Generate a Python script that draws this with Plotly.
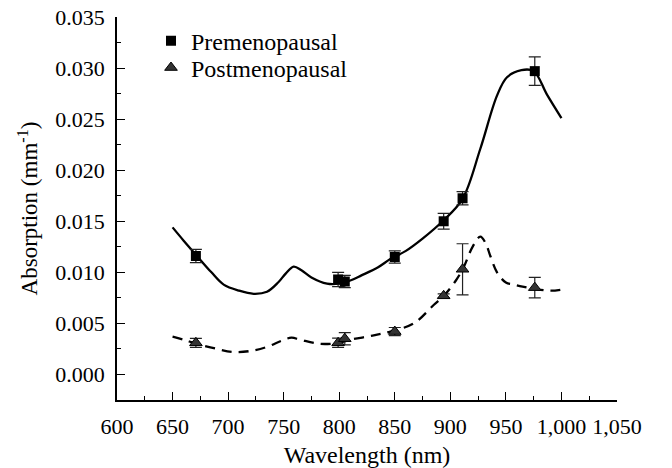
import plotly.graph_objects as go

# measured points (wavelength nm, absorption mm^-1)
pt_wl = [671, 799, 805, 850, 894, 911, 976]
pre_abs = [0.0116, 0.0093, 0.0091, 0.0115, 0.0150, 0.01725, 0.0297]
pre_err = [0.00065, 0.0007, 0.0006, 0.0006, 0.00077, 0.00065, 0.0014]
post_abs = [0.0031, 0.0031, 0.0035, 0.0042, 0.0077, 0.0103, 0.0085]
post_err = [0.00044, 0.00045, 0.0006, 0.0004, 0.0002, 0.0025, 0.001]

# fitted spectra
pre_fit_wl = [650, 660, 672, 685, 696, 710, 723, 735, 745, 752, 759, 766, 775, 789, 800, 810,
              820, 835, 846, 860, 875, 893, 911, 927, 942, 951, 964, 975, 987, 1000]
pre_fit = [0.0144, 0.0131, 0.0116, 0.0100, 0.0088, 0.0082, 0.0079, 0.0081, 0.0090, 0.0099,
           0.01056, 0.0102, 0.0095, 0.0089, 0.0089, 0.0092, 0.0097, 0.0105, 0.0113, 0.0121,
           0.0133, 0.0150, 0.0172, 0.0221, 0.0273, 0.0291, 0.0298, 0.0297, 0.0274, 0.0251]
post_fit_wl = [650, 660, 672, 690, 705, 720, 735, 748, 757, 765, 783, 800, 810, 830, 846,
               867, 885, 895, 905, 912, 920, 927, 932, 936, 942, 950, 957, 965, 975, 990, 1000]
post_fit = [0.0037, 0.0034, 0.0030, 0.0025, 0.0022, 0.0023, 0.0027, 0.0033, 0.0036, 0.0034,
            0.0030, 0.0031, 0.0034, 0.0038, 0.0042, 0.0050, 0.0068, 0.0078, 0.0092, 0.0105,
            0.0125, 0.0135, 0.0128, 0.0116, 0.0100, 0.0090, 0.0088, 0.0086, 0.0084, 0.0082, 0.0083]

FONT = "Liberation Serif, Times New Roman, serif"

fig = go.Figure()
fig.add_trace(go.Scatter(x=pre_fit_wl, y=pre_fit, mode="lines", line=dict(color="black", width=2.3, shape="spline"),
                         showlegend=False))
fig.add_trace(go.Scatter(x=post_fit_wl, y=post_fit, mode="lines",
                         line=dict(color="black", width=2.3, shape="spline", dash="10px,7px"), showlegend=False))
fig.add_trace(go.Scatter(x=pt_wl, y=pre_abs, mode="markers", name="Premenopausal", legend="legend",
                         marker=dict(symbol="square", size=10, color="black"),
                         error_y=dict(type="data", array=pre_err, color="#222", thickness=1.2, width=6)))
fig.add_trace(go.Scatter(x=pt_wl, y=post_abs, mode="markers", name="Postmenopausal", legend="legend2",
                         marker=dict(symbol="triangle-up", size=11, color="#333", line=dict(color="black", width=1)),
                         error_y=dict(type="data", array=post_err, color="#222", thickness=1.2, width=6)))

leg = dict(x=0.068, xanchor="left", yanchor="middle", bgcolor="rgba(0,0,0,0)",
           font=dict(size=24), itemwidth=30)
fig.update_layout(
    width=672, height=468, margin=dict(l=117, r=55, t=17, b=68),
    paper_bgcolor="white", plot_bgcolor="white",
    font=dict(family=FONT, size=22, color="black"),
    legend=dict(leg, y=0.937),
    legend2=dict(leg, y=0.867),
)
fig.update_xaxes(range=[600, 1050], dtick=50, tickformat=",", showline=True, linecolor="black", linewidth=1.5,
                 ticks="inside", ticklen=8, tickcolor="black", showgrid=False, zeroline=False,
                 minor=dict(dtick=25, ticks="inside", ticklen=4, tickcolor="black"),
                 ticklabelstandoff=6, automargin=False,
                 title=dict(text="Wavelength (nm)", standoff=12, font=dict(size=24)))
fig.update_yaxes(range=[-0.0025, 0.035], dtick=0.005, tickformat=".3f", showline=True, linecolor="black",
                 linewidth=1.5, ticks="inside", ticklen=8, tickcolor="black", showgrid=False, zeroline=False,
                 minor=dict(dtick=0.0025, ticks="inside", ticklen=4, tickcolor="black"),
                 ticklabelstandoff=6, automargin=False,
                 title=dict(text="Absorption (mm<sup>-1</sup>)", standoff=11, font=dict(size=23)))

# the page body has a default 8px margin; drop it so the figure fills the window
fig.write_html("out.html", config={"displayModeBar": False},
               post_script="document.body.style.margin='0';")
